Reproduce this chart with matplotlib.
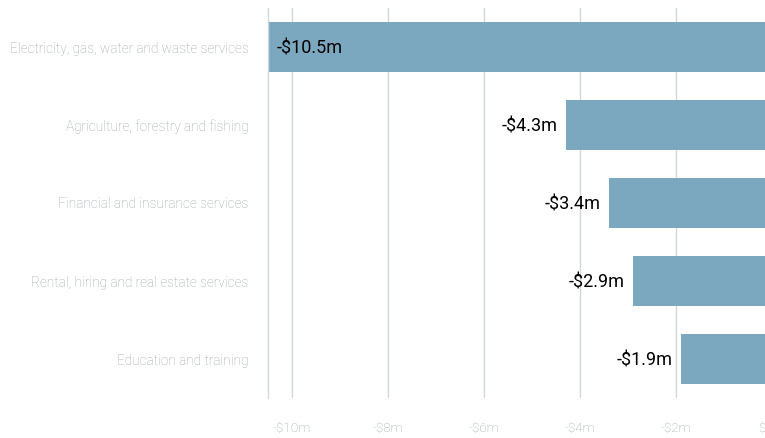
import matplotlib.pyplot as plt

# data (values in $m)
industries = ['Electricity, gas, water and waste services',
              'Agriculture, forestry and fishing',
              'Financial and insurance services',
              'Rental, hiring and real estate services',
              'Education and training']
values = [-10.5, -4.3, -3.4, -2.9, -1.9]
xticks = [-10, -8, -6, -4, -2, 0]
xtick_labels = ['-$10m', '-$8m', '-$6m', '-$4m', '-$2m', '$0m']

bar_color = '#7ba7bf'
grid_color = '#d3d7d9'
label_gray = '#9ea7ab'

fig = plt.figure(figsize=(7.65, 4.38), dpi=100)
# the plot runs a little past the right edge, so the $0m label is clipped
ax = fig.add_axes([268 / 765, 1 - 398 / 438, (772 - 268) / 765, 390 / 438])

ypos = list(range(len(industries)))
ax.barh(ypos, values, height=0.64, color=bar_color, zorder=2)

ax.set_xticks(xticks)
ax.set_xticklabels(xtick_labels, family='Roboto', fontweight='light',
                   fontsize=9.7, color=label_gray)
ax.set_yticks(ypos)
ax.set_yticklabels(industries, family='Roboto', fontweight='light',
                   fontsize=9.8, color=label_gray)
ax.tick_params(axis='x', length=0, pad=17)
ax.tick_params(axis='y', length=0, pad=14)

ax.set_xlim(-10.5, 0)
ax.set_ylim(len(industries) - 0.5, -0.5)

ax.grid(True, axis='x', color=grid_color, linewidth=1, zorder=0)
for s in ['top', 'right', 'bottom']:
    ax.spines[s].set_visible(False)
ax.spines['left'].set_color(grid_color)
ax.spines['left'].set_linewidth(1)

# value labels: inside the long bar, outside the rest
for y, v in zip(ypos, values):
    txt = '-$%.1fm' % abs(v)
    if v < -8:
        ax.annotate(txt, (v, y), xytext=(6, -1), textcoords='offset points',
                    ha='left', va='center', fontsize=13, family='Roboto',
                    color='black', zorder=3)
    else:
        ax.annotate(txt, (v, y), xytext=(-6, -1), textcoords='offset points',
                    ha='right', va='center', fontsize=13, family='Roboto',
                    color='black', zorder=3)

fig.savefig('out.png', dpi=100)
